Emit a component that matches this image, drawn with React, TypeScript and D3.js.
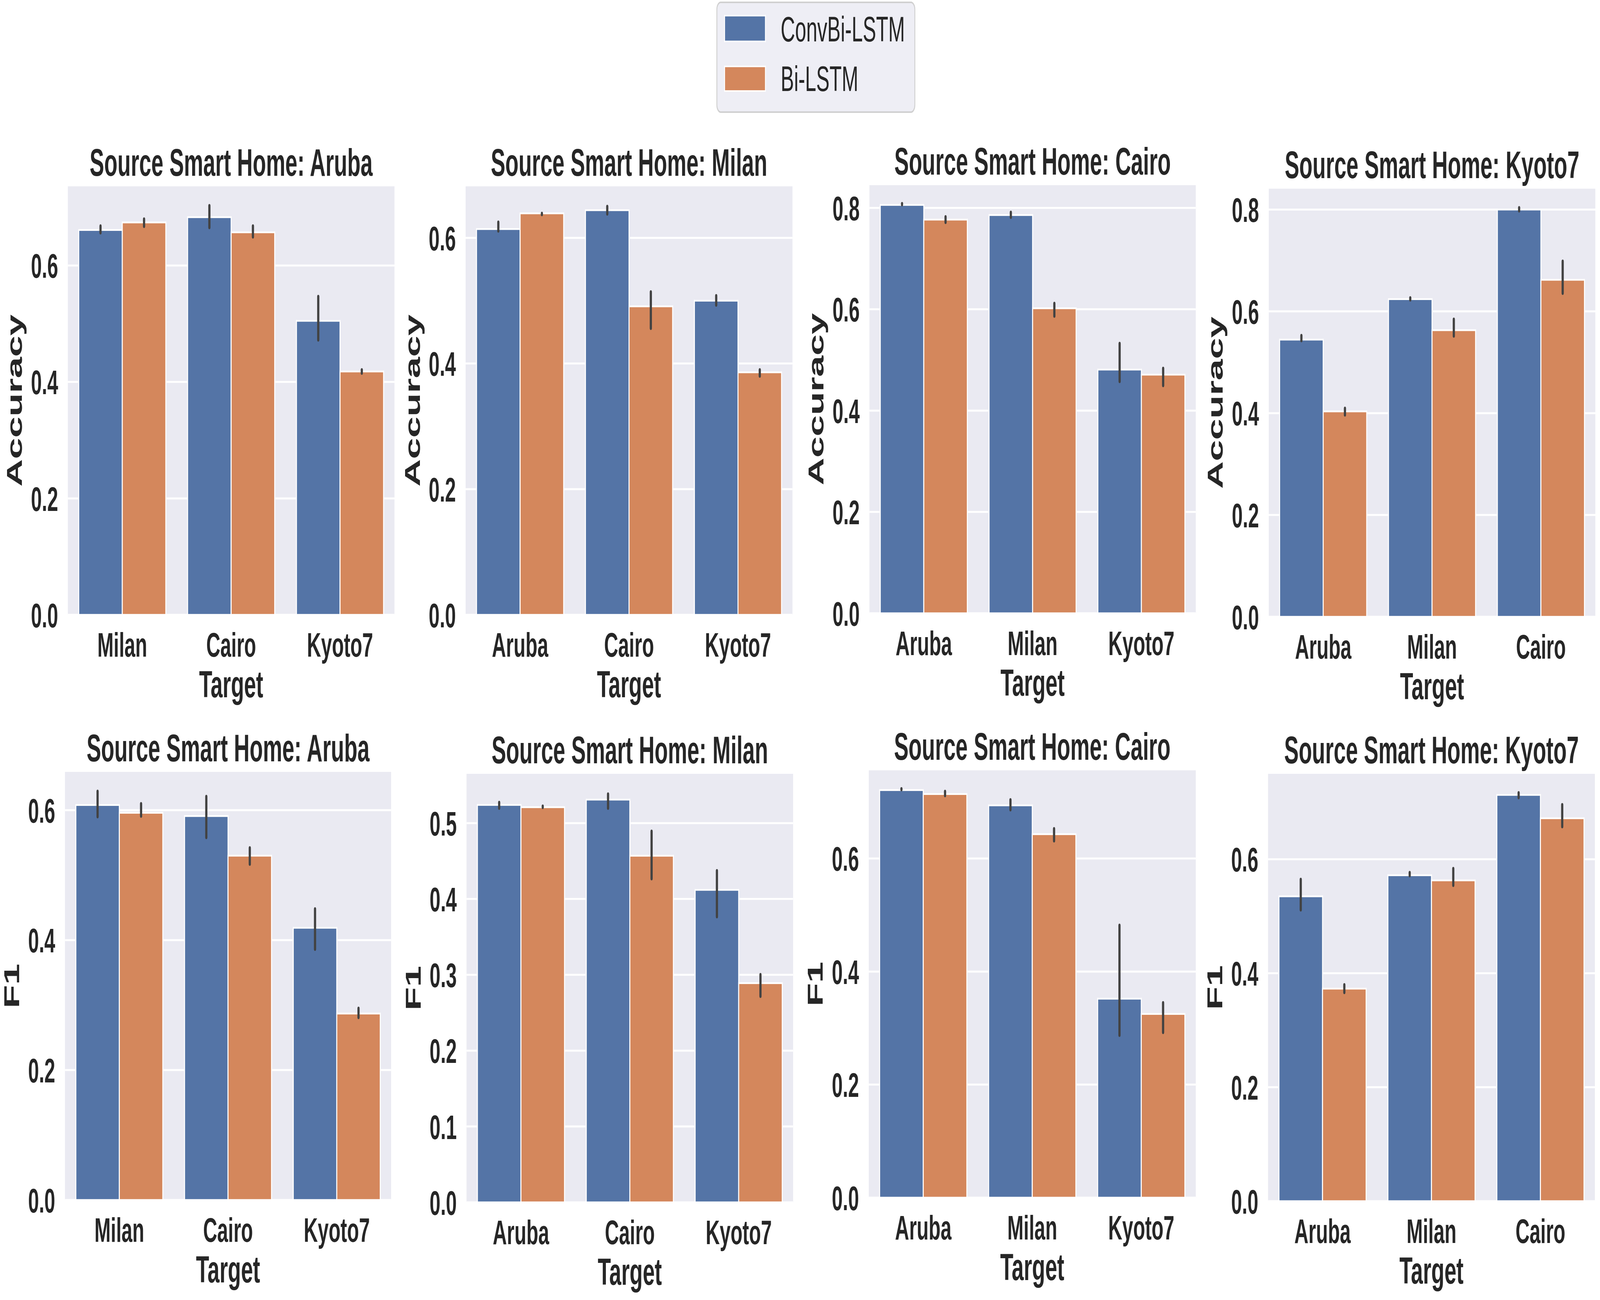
import React from "react";
import * as d3 from "d3";

// ---------- data ----------
const sources = ["Aruba", "Milan", "Cairo", "Kyoto7"];
const targets = [
  ["Milan", "Cairo", "Kyoto7"],
  ["Aruba", "Cairo", "Kyoto7"],
  ["Aruba", "Milan", "Kyoto7"],
  ["Aruba", "Milan", "Cairo"],
];
const seriesNames = ["ConvBi-LSTM", "Bi-LSTM"];
const metrics = ["Accuracy", "F1"];

// Accuracy (top row)
const accConv = [
  [0.661, 0.683, 0.505],
  [0.614, 0.644, 0.5],
  [0.806, 0.786, 0.481],
  [0.5445, 0.624, 0.8],
];
const accConvErr = [
  [[0.654, 0.67], [0.663, 0.705], [0.47, 0.549]],
  [[0.609, 0.627], [0.636, 0.652], [0.491, 0.51]],
  [[0.804, 0.811], [0.779, 0.794], [0.455, 0.535]],
  [[0.54, 0.555], [0.62, 0.629], [0.795, 0.806]],
];
const accBi = [
  [0.674, 0.657, 0.418],
  [0.639, 0.491, 0.386],
  [0.777, 0.602, 0.471],
  [0.4035, 0.563, 0.662],
];
const accBiErr = [
  [[0.665, 0.682], [0.647, 0.67], [0.413, 0.423]],
  [[0.635, 0.641], [0.454, 0.516], [0.378, 0.392]],
  [[0.769, 0.785], [0.584, 0.614], [0.447, 0.486]],
  [[0.394, 0.412], [0.549, 0.587], [0.633, 0.701]],
];

// F1 (bottom row)
const f1Conv = [
  [0.608, 0.591, 0.419],
  [0.524, 0.531, 0.412],
  [0.721, 0.694, 0.352],
  [0.535, 0.572, 0.713],
];
const f1ConvErr = [
  [[0.588, 0.631], [0.556, 0.623], [0.384, 0.45]],
  [[0.518, 0.529], [0.518, 0.54], [0.375, 0.439]],
  [[0.72, 0.725], [0.684, 0.706], [0.285, 0.484]],
  [[0.509, 0.567], [0.569, 0.579], [0.706, 0.719]],
];
const f1Bi = [
  [0.596, 0.53, 0.287],
  [0.521, 0.457, 0.289],
  [0.714, 0.643, 0.325],
  [0.373, 0.563, 0.672],
];
const f1BiErr = [
  [[0.589, 0.612], [0.515, 0.544], [0.279, 0.297]],
  [[0.519, 0.524], [0.425, 0.491], [0.27, 0.302]],
  [[0.709, 0.721], [0.629, 0.655], [0.29, 0.347]],
  [[0.364, 0.382], [0.552, 0.586], [0.655, 0.698]],
];

// axis limits and ticks
const accYMax = [0.736, 0.682, 0.845, 0.841];
const f1YMax = [0.659, 0.565, 0.756, 0.75];
const accTicks = [
  [0, 0.2, 0.4, 0.6],
  [0, 0.2, 0.4, 0.6],
  [0, 0.2, 0.4, 0.6, 0.8],
  [0, 0.2, 0.4, 0.6, 0.8],
];
const f1Ticks = [
  [0, 0.2, 0.4, 0.6],
  [0, 0.1, 0.2, 0.3, 0.4, 0.5],
  [0, 0.2, 0.4, 0.6],
  [0, 0.2, 0.4, 0.6],
];

// ---------- layout ----------
const W = 7216;
const H = 3328;
const FONT = "'Liberation Sans', Arial, Helvetica, sans-serif";
const TEXT = "#262626";
const BG = "#EAEAF2";
const COLORS = ["#5474A6", "#D4875C"];
const ERR = "#424242";

// [left, right, top, bottom] for each panel
const topBoxes = [
  [306, 1779, 477, 1574],
  [2100, 3574, 477, 1574],
  [3921, 5393, 474, 1570],
  [5722, 7195, 483, 1579],
];
const botBoxes = [
  [293, 1764, 1976, 3072],
  [2104, 3577, 1981, 3078],
  [3918, 5393, 1972, 3066],
  [5719, 7193, 1981, 3075],
];

type PanelProps = {
  box: number[];
  source: string;
  cats: string[];
  metric: string;
  vals: number[][];
  errs: number[][][];
  yMax: number;
  ticks: number[];
};

function Panel({ box, source, cats, metric, vals, errs, yMax, ticks }: PanelProps) {
  const [l, r, t, b] = box;
  const x = d3.scaleBand<string>().domain(cats).range([l, r]).paddingInner(0.2).paddingOuter(0.1);
  const xs = d3.scaleBand<string>().domain(seriesNames).range([0, x.bandwidth()]);
  const y = d3.scaleLinear().domain([0, yMax]).range([b, t]);
  const fmt = d3.format(".1f");
  const cx = (l + r) / 2;
  const cy = (t + b) / 2;
  return (
    <g>
      <rect x={l} y={t} width={r - l} height={b - t} fill={BG} />
      {ticks.map((v) => (
        <line key={"g" + v} x1={l} x2={r} y1={y(v)} y2={y(v)} stroke="#FFFFFF" strokeWidth={5} />
      ))}
      {seriesNames.map((s, si) =>
        cats.map((c, ci) => {
          const v = vals[si][ci];
          const x0 = (x(c) as number) + (xs(s) as number);
          return (
            <rect
              key={s + c}
              x={x0}
              y={y(v)}
              width={xs.bandwidth()}
              height={y(0) - y(v)}
              fill={COLORS[si]}
              stroke="#FFFFFF"
              strokeWidth={4.5}
            />
          );
        })
      )}
      {seriesNames.map((s, si) =>
        cats.map((c, ci) => {
          const [lo, hi] = errs[si][ci];
          const xm = (x(c) as number) + (xs(s) as number) + xs.bandwidth() / 2;
          return (
            <line
              key={"e" + s + c}
              x1={xm}
              x2={xm}
              y1={y(lo) - 4}
              y2={y(hi) + 4}
              stroke={ERR}
              strokeWidth={10}
              strokeLinecap="round"
            />
          );
        })
      )}
      {ticks.map((v) => (
        <text
          key={"t" + v}
          x={l - 44}
          y={y(v)}
          dy="0.36em"
          textAnchor="end"
          fontSize={88}
          fontWeight="bold"
          fill={TEXT}
        >
          {fmt(v)}
        </text>
      ))}
      {cats.map((c) => (
        <text
          key={"x" + c}
          x={(x(c) as number) + x.bandwidth() / 2}
          y={b + 107}
          textAnchor="middle"
          fontSize={88}
          fontWeight="bold"
          fill={TEXT}
        >
          {c}
        </text>
      ))}
      <text x={cx} y={b + 211} textAnchor="middle" fontSize={97} fontWeight="bold" fill={TEXT}>
        Target
      </text>
      <text
        transform={`translate(${l - 207},${cy}) rotate(-90)`}
        textAnchor="middle"
        fontSize={98}
        fontWeight="bold"
        fill={TEXT}
      >
        {metric}
      </text>
      <text x={cx} y={t - 27} textAnchor="middle" fontSize={98} fontWeight="bold" fill={TEXT}>
        {"Source Smart Home: " + source}
      </text>
    </g>
  );
}

function Legend() {
  const rows = [
    { y0: 40, y1: 106 },
    { y0: 170, y1: 233 },
  ];
  return (
    <g>
      <rect x={3233} y={6} width={893} height={281} rx={18} ry={18} fill="#EEEEF5" stroke="#D0D0D0" strokeWidth={4} />
      {seriesNames.map((s, i) => (
        <g key={s}>
          <rect
            x={3268}
            y={rows[i].y0}
            width={184}
            height={rows[i].y1 - rows[i].y0}
            fill={COLORS[i]}
            stroke="#FFFFFF"
            strokeWidth={4}
          />
          <text x={3521} y={rows[i].y1} fontSize={90} fill={TEXT}>
            {s}
          </text>
        </g>
      ))}
    </g>
  );
}

export default function App() {
  return (
    <svg
      viewBox={`0 0 ${W} ${H}`}
      preserveAspectRatio="none"
      style={{
        position: "absolute",
        left: 0,
        top: 0,
        width: "100vw",
        height: "100vh",
        display: "block",
        background: "#FFFFFF",
      }}
      fontFamily={FONT}
    >
      <rect x={0} y={0} width={W} height={H} fill="#FFFFFF" />
      <Legend />
      {sources.map((s, i) => (
        <Panel
          key={"acc" + s}
          box={topBoxes[i]}
          source={s}
          cats={targets[i]}
          metric={metrics[0]}
          vals={[accConv[i], accBi[i]]}
          errs={[accConvErr[i], accBiErr[i]]}
          yMax={accYMax[i]}
          ticks={accTicks[i]}
        />
      ))}
      {sources.map((s, i) => (
        <Panel
          key={"f1" + s}
          box={botBoxes[i]}
          source={s}
          cats={targets[i]}
          metric={metrics[1]}
          vals={[f1Conv[i], f1Bi[i]]}
          errs={[f1ConvErr[i], f1BiErr[i]]}
          yMax={f1YMax[i]}
          ticks={f1Ticks[i]}
        />
      ))}
    </svg>
  );
}
